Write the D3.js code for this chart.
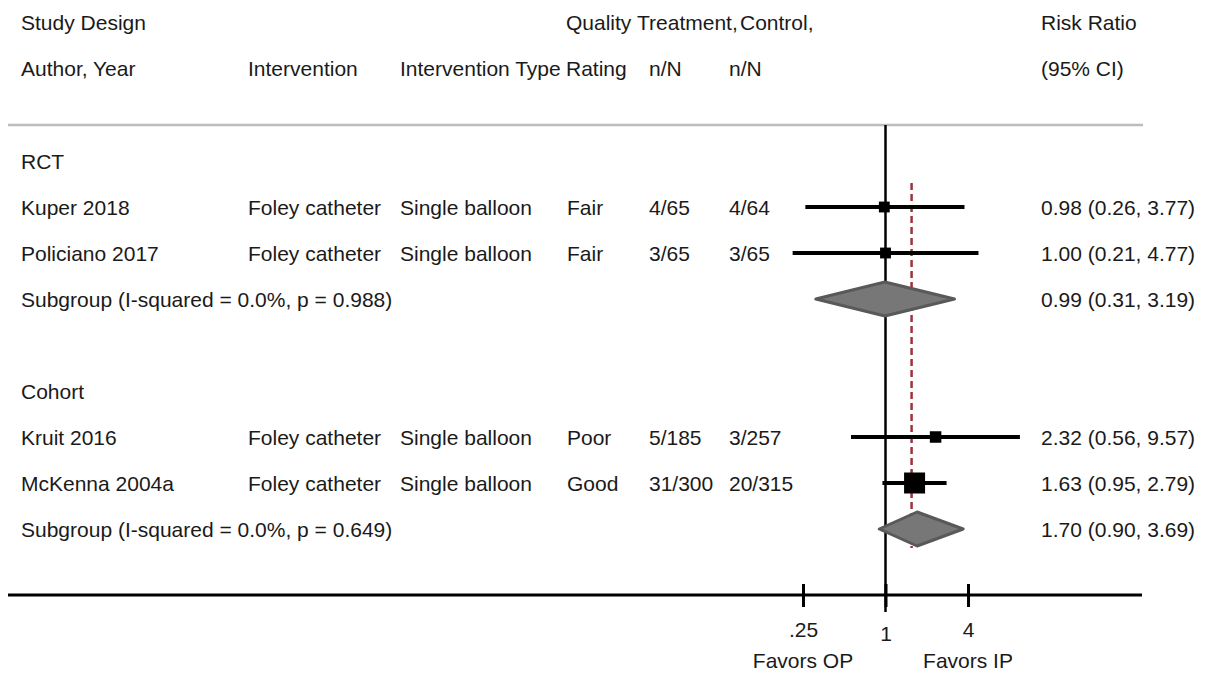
<!DOCTYPE html>
<html>
<head>
<meta charset="utf-8">
<script src="https://cdn.jsdelivr.net/npm/d3@7"></script>
<style>
  body { margin: 0; background: #fff; }
  text { font-family: "Liberation Sans", Arial, sans-serif; font-size: 21px; fill: #1a1a1a; }
</style>
</head>
<body>
<div id="forest"></div>
<script>
// data
var headerTop = ["Study Design", "Quality", "Treatment,", "Control,", "Risk Ratio"];
var headerBottom = ["Author, Year", "Intervention", "Intervention Type", "Rating", "n/N", "n/N", "(95% CI)"];

var groups = ["RCT", "Cohort"];
var studyGroup = ["RCT", "RCT", "Cohort", "Cohort"];
var authors = ["Kuper 2018", "Policiano 2017", "Kruit 2016", "McKenna 2004a"];
var interventions = ["Foley catheter", "Foley catheter", "Foley catheter", "Foley catheter"];
var interventionTypes = ["Single balloon", "Single balloon", "Single balloon", "Single balloon"];
var ratings = ["Fair", "Fair", "Poor", "Good"];
var treatmentNN = ["4/65", "3/65", "5/185", "31/300"];
var controlNN = ["4/64", "3/65", "3/257", "20/315"];
var rr = [0.98, 1.00, 2.32, 1.63];
var rrLow = [0.26, 0.21, 0.56, 0.95];
var rrHigh = [3.77, 4.77, 9.57, 2.79];
var weights = [16, 16, 18, 60];

var subgroupLabels = ["Subgroup (I-squared = 0.0%, p = 0.988)", "Subgroup (I-squared = 0.0%, p = 0.649)"];
var subRR = [0.99, 1.70];
var subLow = [0.31, 0.90];
var subHigh = [3.19, 3.69];

var overallRR = 1.55;
var tickValues = [0.25, 1, 4];
var tickLabels = [".25", "1", "4"];
var favorLabels = ["Favors OP", "Favors IP"];

var width = 1207, height = 673;

var svg = d3.select("#forest").append("svg")
    .attr("width", width)
    .attr("height", height);

// column x positions
var col = {author: 21, interv: 248, type: 400, rating: 567, treat: 649, ctrl: 729, rr: 1041};

// build the row list: group title, studies, subgroup, blank
var rows = [];
groups.forEach(function (g, gi) {
    rows.push({kind: "group", label: g});
    studyGroup.forEach(function (sg, i) {
        if (sg === g) rows.push({kind: "study", i: i});
    });
    rows.push({kind: "sub", i: gi});
    if (gi < groups.length - 1) rows.push({kind: "blank"});
});

var y = d3.scaleLinear().domain([0, 1]).range([169, 215]); // text baseline per row index
var x = d3.scaleLog().domain([0.25, 4]).range([803, 968]);
var box = d3.scaleSqrt().domain([0, 60]).range([0, 21]);

var fmt = d3.format(".2f");
function ciText(m, l, h) { return fmt(m) + " (" + fmt(l) + ", " + fmt(h) + ")"; }

// header
svg.append("text").attr("x", col.author).attr("y", 30).text(headerTop[0]);
svg.append("text").attr("x", 566).attr("y", 30).text(headerTop[1]);
svg.append("text").attr("x", 637).attr("y", 30).text(headerTop[2]);
svg.append("text").attr("x", 740).attr("y", 30).text(headerTop[3]);
svg.append("text").attr("x", col.rr).attr("y", 30).text(headerTop[4]);

var hx = [col.author, col.interv, col.type, 566, col.treat, col.ctrl, col.rr];
headerBottom.forEach(function (t, i) {
    svg.append("text").attr("x", hx[i]).attr("y", 76).text(t);
});

// top separator
svg.append("line")
    .attr("x1", 8).attr("x2", 1143)
    .attr("y1", 125).attr("y2", 125)
    .style("stroke", "#bdbdbd").style("stroke-width", 2.5);

// null line at 1
svg.append("line")
    .attr("x1", x(1)).attr("x2", x(1))
    .attr("y1", 125).attr("y2", 612)
    .style("stroke", "#000").style("stroke-width", 2.5);

// overall effect dashed line
svg.append("line")
    .attr("x1", x(overallRR)).attr("x2", x(overallRR))
    .attr("y1", 183).attr("y2", 548)
    .style("stroke", "#a0323c").style("stroke-width", 2.5)
    .style("stroke-dasharray", "7,4");

rows.forEach(function (r, ri) {
    var by = y(ri), cy = by - 8;
    if (r.kind === "group") {
        svg.append("text").attr("x", col.author).attr("y", by).text(r.label);
    } else if (r.kind === "study") {
        var i = r.i;
        [[col.author, authors[i]], [col.interv, interventions[i]], [col.type, interventionTypes[i]],
         [col.rating, ratings[i]], [col.treat, treatmentNN[i]], [col.ctrl, controlNN[i]],
         [col.rr, ciText(rr[i], rrLow[i], rrHigh[i])]].forEach(function (c) {
            svg.append("text").attr("x", c[0]).attr("y", by).text(c[1]);
        });
        svg.append("line")
            .attr("x1", x(rrLow[i])).attr("x2", x(rrHigh[i]))
            .attr("y1", cy).attr("y2", cy)
            .style("stroke", "#000").style("stroke-width", 4);
        var s = box(weights[i]);
        svg.append("rect")
            .attr("x", x(rr[i]) - s / 2).attr("y", cy - s / 2)
            .attr("width", s).attr("height", s)
            .style("fill", "#000");
    } else if (r.kind === "sub") {
        var k = r.i;
        svg.append("text").attr("x", col.author).attr("y", by).text(subgroupLabels[k]);
        svg.append("text").attr("x", col.rr).attr("y", by).text(ciText(subRR[k], subLow[k], subHigh[k]));
        var h = 17;
        var pts = [[x(subLow[k]), cy], [x(subRR[k]), cy - h], [x(subHigh[k]), cy], [x(subRR[k]), cy + h]];
        svg.append("polygon")
            .attr("points", pts.map(function (p) { return p.join(","); }).join(" "))
            .style("fill", "#777").style("stroke", "#595959")
            .style("stroke-width", 3).style("stroke-linejoin", "round");
    }
});

// bottom axis
svg.append("line")
    .attr("x1", 8).attr("x2", 1142)
    .attr("y1", 595).attr("y2", 595)
    .style("stroke", "#000").style("stroke-width", 3);

var axis = svg.append("g")
    .attr("transform", "translate(0,584)")
    .call(d3.axisBottom(x)
        .tickValues(tickValues)
        .tickFormat(function (d, i) { return tickLabels[i]; })
        .tickSizeInner(23).tickSizeOuter(0).tickPadding(15));
axis.select(".domain").remove();
axis.selectAll(".tick line").style("stroke", "#000").style("stroke-width", 3);
axis.selectAll(".tick text")
    .attr("font-size", null).attr("font-family", null)
    .style("font-size", "21px").style("fill", "#1a1a1a")
    .attr("y", function (d) { return d === 1 ? 42 : 38; });

svg.selectAll(".favor")
    .data(favorLabels)
    .enter().append("text")
    .attr("class", "favor")
    .attr("x", function (d, i) { return x(tickValues[i === 0 ? 0 : 2]); })
    .attr("y", 668)
    .attr("text-anchor", "middle")
    .text(function (d) { return d; });
</script>
</body>
</html>
